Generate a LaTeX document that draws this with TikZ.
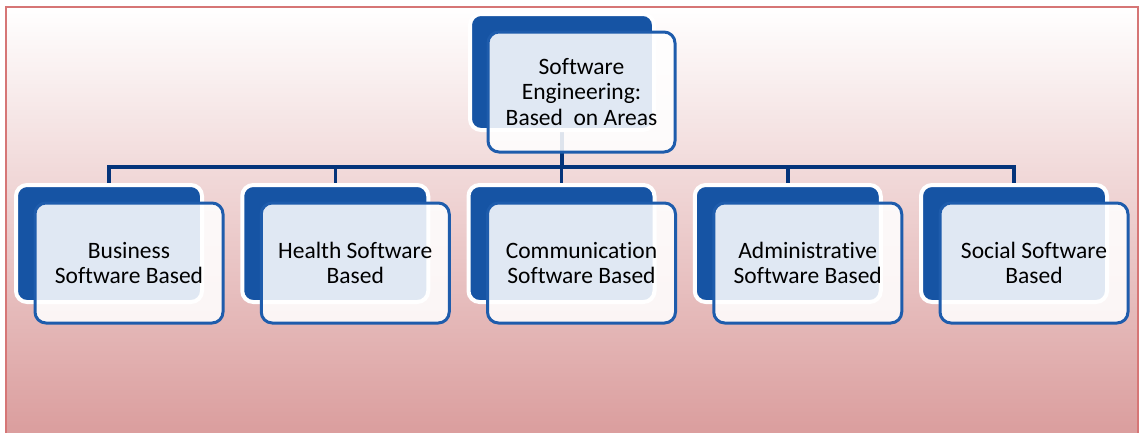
\documentclass[tikz,border=0pt]{standalone}
\usepackage{fontspec}
\setmainfont{Carlito}[Ligatures=NoCommon]
\definecolor{framecol}{RGB}{214,118,118}
\definecolor{pinkbot}{RGB}{218,156,156}
\definecolor{darkbox}{RGB}{22,84,164}
\definecolor{frontline}{RGB}{30,92,172}
\definecolor{buscol}{RGB}{4,52,122}
\pgfdeclarelayer{bglayer}
\pgfdeclarelayer{connlayer}
\pgfsetlayers{bglayer,connlayer,main}
\tikzset{
  darkshape/.style={rectangle, rounded corners=11pt, fill=darkbox, draw=white, line width=4pt,
    minimum width=#1, inner sep=0pt, outer sep=0pt},
  frontshape/.style={rectangle, rounded corners=11pt, fill=white, fill opacity=0.87, text opacity=1,
    draw=frontline, line width=3pt, minimum width=188pt, minimum height=120pt, inner sep=0pt,
    outer sep=0pt, align=center, text=black, font=\fontsize{23.5}{25.5}\selectfont},
  bus/.style={draw=buscol, line width=3.5pt}
}
\begin{document}
\begin{tikzpicture}[x=1pt,y=-1pt]
\useasboundingbox (0,0) rectangle (1141,432);
\begin{pgfonlayer}{bglayer}
\fill[white] (0,0) rectangle (1141,432);
\shade[top color=white, bottom color=pinkbot] (6,7) rectangle (1138,440);
\draw[framecol, line width=2.2pt] (6,440) -- (6,7) -- (1138,7) -- (1138,440);
\end{pgfonlayer}
% dark back boxes
\node[darkshape=184pt, minimum height=116pt] (tdark) at (562,72) {};
\foreach \i in {0,...,4}{
  \node[darkshape=186pt, minimum height=117pt] (d\i) at ({109+226.25*\i},243.5) {};
}
\coordinate (bus) at (562,167);
% connectors behind the boxes
\begin{pgfonlayer}{connlayer}
\draw[bus] (tdark.center) -- (bus);
\foreach \i in {0,...,4}{
  \draw[bus] (bus) -| (d\i.north);
}
\end{pgfonlayer}
% front boxes
\node[frontshape, minimum width=187pt] (top) at (581.5,92) {Software\\Engineering:\\Based~~on Areas};
\node[frontshape] (f0) at (129,263) {Business\\Software Based};
\node[frontshape] (f1) at (355.25,263) {Health Software\\Based};
\node[frontshape] (f2) at (581.5,263) {Communication\\Software Based};
\node[frontshape] (f3) at (807.75,263) {Administrative\\Software Based};
\node[frontshape] (f4) at (1034,263) {Social Software\\Based};
\end{tikzpicture}
\end{document}
